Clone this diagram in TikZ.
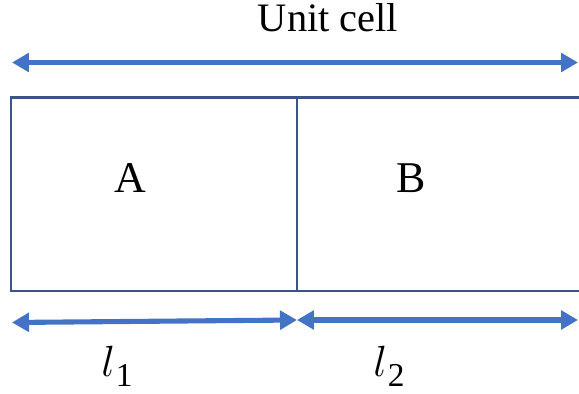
\documentclass[tikz,border=0pt]{standalone}
\usepackage{fontspec}
\setmainfont{Liberation Serif}
\usepackage{tikz}
\usetikzlibrary{arrows.meta, positioning}
\definecolor{myblue}{HTML}{4472C4}
\definecolor{myframe}{HTML}{3A5483}
\newcommand{\lensym}[1]{$l$\kern0.5pt\raisebox{-5.5pt}{\fontsize{19}{22}\selectfont #1}}
\tikzset{
	cellbox/.style={
			draw=myframe,
			line width=1.2pt,
			minimum height=3.87cm,
			inner sep=0pt,
			outer sep=0pt
		},
	dimarrow/.style={
			draw=myblue,
			line width=2.9pt,
			{Triangle[length=0.34cm,width=0.37cm]}-{Triangle[length=0.34cm,width=0.37cm]}
		},
	celllabel/.style={
			anchor=base,
			inner sep=0pt,
			font=\fontsize{23}{27}\selectfont
		},
	bigcelllabel/.style={
			celllabel,
			font=\fontsize{25}{29}\selectfont
		},
	lenlabel/.style={
			anchor=base,
			inner sep=0pt,
			font=\fontsize{25}{29}\selectfont
		}
}
\begin{document}
\begin{tikzpicture}[x=0.02cm, y=-0.02cm]
\clip (0,0) rectangle (579,394);
    \node[cellbox, minimum width=5.72cm, anchor=north west] (cA) at (11,97.5) {};
    \node[cellbox, minimum width=7cm, anchor=north west] (cB) at (cA.north east) {};

    \node[celllabel] (unit) at (328,32) {Unit cell};
    \node[bigcelllabel] (la) at (130,193) {A};
    \node[bigcelllabel] (lb) at (411,193) {B};
    \node[lenlabel] (l1) at (117,377) {\lensym{1}};
    \node[lenlabel] (l2) at (389,377) {\lensym{2}};

    \coordinate (tl) at (12,62.5);
    \coordinate (tr) at (578,62.5);
    \coordinate (bl) at (12,322.5);
    \coordinate (bm) at (297,320);
    \coordinate (br) at (578,320);

    \draw[dimarrow] (tl) -- (tr);
    \draw[dimarrow] (bl) -- (bm);
    \draw[dimarrow] (bm) -- (br);
\end{tikzpicture}
\end{document}
